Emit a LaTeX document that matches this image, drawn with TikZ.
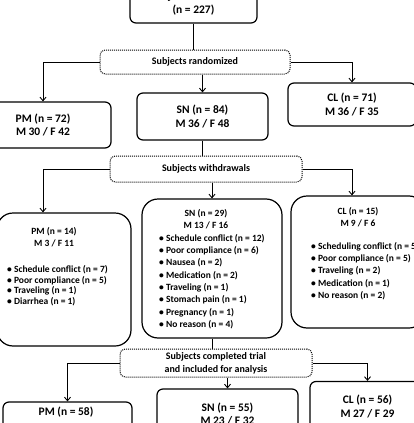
\documentclass[tikz,border=0pt]{standalone}
\usepackage{fontspec}
\setmainfont{Carlito}
\usetikzlibrary{arrows.meta}

\begin{document}
\begin{tikzpicture}[x=1pt, y=-1pt, >={Straight Barb[length=3.5pt,width=6pt]},
  every node/.style={inner sep=0pt},
  box/.style={draw, line width=1.2pt, rounded corners=6pt, align=center, font=\bfseries\fontsize{11.5}{13.5}\selectfont},
  bigbox/.style={draw, line width=1.2pt, rounded corners=16pt},
  dotbox/.style={draw, line width=1pt, densely dotted, rounded corners=5pt, align=center, font=\bfseries\fontsize{10}{13}\selectfont},
  head/.style={align=center, font=\bfseries\fontsize{9.5}{12}\selectfont},
  items/.style={align=left, anchor=north west, font=\bfseries\fontsize{9.5}{12.3}\selectfont},
  conn/.style={line width=0.9pt}]
  \useasboundingbox (0,0) rectangle (414,423);
  \clip (0,0) rectangle (414,423);

  % enrolment and randomisation
  \node[box, minimum width=127pt, minimum height=39pt] (top) at (193.5,3.5) {Subjects recruited\\(n = 227)};
  \node[dotbox, minimum width=190pt, minimum height=24pt] (rnd) at (195,62) {Subjects randomized};
  \node[box, minimum width=136pt, minimum height=46pt] (pm) at (43,125) {PM (n = 72)\\M 30 / F 42};
  \node[box, minimum width=131pt, minimum height=47pt] (sn) at (202.5,116.5) {SN (n = 84)\\M 36 / F 48};
  \node[box, minimum width=128pt, minimum height=43pt] (cl) at (352,104.5) {CL (n = 71)\\M 36 / F 35};

  % withdrawals
  \node[dotbox, minimum width=192pt, minimum height=26pt] (wd) at (206,169) {Subjects withdrawals};
  \node[bigbox, minimum width=134pt, minimum height=133pt] (pmw) at (64,279.5) {};
  \node[head] (pmwhead) at (54,237.5) {PM (n = 14)\\M 3 / F 11};
  \node[items, font=\bfseries\fontsize{9.5}{10.8}\selectfont] (pmwlist) at (7,265) {%
    \textbullet\ Schedule conflict (n = 7)\\
    \textbullet\ Poor compliance (n = 5)\\
    \textbullet\ Traveling (n = 1)\\
    \textbullet\ Diarrhea (n = 1)};
  \node[bigbox, minimum width=140pt, minimum height=139pt] (snw) at (212,268.5) {};
  \node[head] (snwhead) at (206,219) {SN (n = 29)\\M 13 / F 16};
  \node[items] (snwlist) at (159,234) {%
    \textbullet\ Schedule conflict (n = 12)\\
    \textbullet\ Poor compliance (n = 6)\\
    \textbullet\ Nausea (n = 2)\\
    \textbullet\ Medication (n = 2)\\
    \textbullet\ Traveling (n = 1)\\
    \textbullet\ Stomach pain (n = 1)\\
    \textbullet\ Pregnancy (n = 1)\\
    \textbullet\ No reason (n = 4)};
  \node[bigbox, minimum width=134pt, minimum height=132pt] (clw) at (358,262) {};
  \node[head] (clwhead) at (358,217.5) {CL (n = 15)\\M 9 / F 6};
  \node[items] (clwlist) at (311,242) {%
    \textbullet\ Scheduling conflict (n = 5)\\
    \textbullet\ Poor compliance (n = 5)\\
    \textbullet\ Traveling (n = 2)\\
    \textbullet\ Medication (n = 1)\\
    \textbullet\ No reason (n = 2)};

  % completed
  \node[dotbox, minimum width=192pt, minimum height=28pt] (cmp) at (216,363) {Subjects completed trial\\and included for analysis};
  \node[box, minimum width=129pt, minimum height=48pt] (pmf) at (67.5,426) {};
  \node[box, draw=none] (pmft) at (66,412) {PM (n = 58)};
  \node[box, minimum width=141pt, minimum height=50pt] (snf) at (227.5,414) {SN (n = 55)\\M 23 / F 32};
  \node[box, minimum width=115pt, minimum height=50pt] (clf) at (367.5,406.5) {CL (n = 56)\\M 27 / F 29};

  % connectors
  \draw[conn] (top.south) -- (top.south |- rnd.north);
  \draw[conn, ->] (rnd.west) -| (pm.north);
  \draw[conn, ->] (rnd.south -| sn.north) -- (sn.north);
  \draw[conn, ->] (rnd.east) -| (cl.north);
  \draw[conn] (sn.south) -- (sn.south |- wd.north);
  \draw[conn, ->] (wd.west) -| (pm.south |- pmw.north);
  \draw[conn, ->] (wd.south -| snw.north) -- (snw.north);
  \draw[conn, ->] (wd.east) -| (cl.south |- clw.north);
  \draw[conn] (snw.south) -- (snw.south |- cmp.north);
  \draw[conn, ->] (cmp.west) -| (pmf.north);
  \draw[conn, ->] (cmp.south -| snf.north) -- (snf.north);
  \draw[conn, ->] (cmp.east) -| (clf.north);
\end{tikzpicture}
\end{document}
